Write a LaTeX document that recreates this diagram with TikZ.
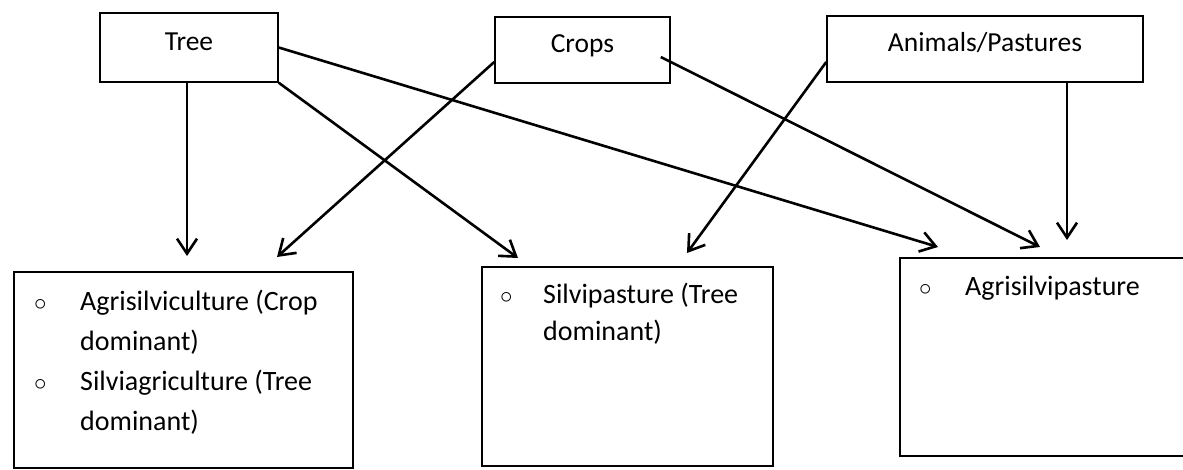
\documentclass[tikz,border=0pt]{standalone}
\usepackage{fontspec}
\setmainfont{Carlito}
\usepackage{tikz}
\usetikzlibrary{arrows.meta, calc, positioning}
\newcommand{\bul}{{\fontsize{34}{40}\selectfont$\circ$}}

\begin{document}
\begin{tikzpicture}[x=1pt, y=-1pt,
    srcbox/.style={draw, line width=1.5pt, rectangle, inner sep=0pt,
        font=\fontsize{27.5}{30}\selectfont, text height=18pt, text depth=12pt},
    resbox/.style={draw, line width=1.5pt, rectangle, inner sep=0pt},
    itemtext/.style={anchor=base west, inner sep=0pt, font=\fontsize{28}{40}\selectfont},
    arr/.style={line width=2.6pt, -{Straight Barb[length=15pt,width=20pt]}}]
    \useasboundingbox (0,0) rectangle (1183,470);

    % Top: components
    \node[srcbox, minimum width=178pt, minimum height=69pt] (tree) at (189,47.5) {Tree};
    \node[srcbox, minimum width=175pt, minimum height=66pt] (crops) at (582.5,50) {Crops};
    \node[srcbox, minimum width=316pt, minimum height=66pt] (animals) at (985,49) {Animals/Pastures};

    % Bottom: systems (the right one runs past the page edge)
    \node[resbox, minimum width=339pt, minimum height=196pt] (agri) at (183.5,370) {};
    \node[resbox, minimum width=291pt, minimum height=199pt] (silvi) at (627.5,366.5) {};
    \node[resbox, minimum width=330pt, minimum height=198pt] (agsil) at (1065,357) {};

    \node[itemtext] (agritext) at (34,310) {\begin{tabular}[t]{@{}p{46pt}@{}l@{}}
        \bul & Agrisilviculture (Crop\\
             & dominant)\\
        \bul & Silviagriculture (Tree\\
             & dominant)
    \end{tabular}};
    \node[itemtext, font=\fontsize{28}{37}\selectfont] (silvitext) at (500,303) {\begin{tabular}[t]{@{}p{43pt}@{}l@{}}
        \bul & Silvipasture (Tree\\
             & dominant)
    \end{tabular}};
    \node[itemtext] (agsiltext) at (919,295) {\begin{tabular}[t]{@{}p{46pt}@{}l@{}}
        \bul & Agrisilvipasture
    \end{tabular}};

    % arrow tips above the boxes
    \coordinate (tipA) at (187,256);
    \coordinate (tipB) at (277,257);
    \coordinate (tipC) at (518,258);
    \coordinate (tipD) at (687,253);
    \coordinate (tipE) at (938,247);
    \coordinate (tipF) at (1040,247);
    \coordinate (tipG) at (1067,240);

    \draw[arr] (tree.south -| tipA) -- (tipA);
    \draw[arr] (tree.south east) -- (tipC);
    \draw[arr] (tree.east) -- (tipE);
    \draw[arr] ($(crops.west)+(0,12)$) -- (tipB);
    \draw[arr] ($(crops.east)+(-10,7)$) -- (tipF);
    \draw[arr] ($(animals.west)+(0,13)$) -- (tipD);
    \draw[arr] (animals.south -| tipG) -- (tipG);
\end{tikzpicture}
\end{document}
